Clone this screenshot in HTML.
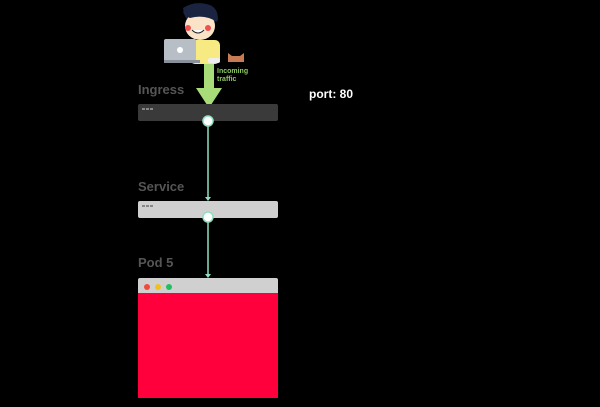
<!DOCTYPE html>
<html><head><style>
body{margin:0;width:600px;height:407px;background:#000;overflow:hidden;position:relative;font-family:"Liberation Sans",sans-serif}
.t{position:absolute;font-weight:bold;color:#555;font-size:13px}
</style></head><body>
<svg width="600" height="407" style="position:absolute;left:0;top:0">
  <!-- person -->
  <path d="M183 12 Q190 2 205 6 Q218 6 218 20 L214 22 Q200 18 188 22 Z" fill="#1a2340"/>
  <ellipse cx="200" cy="26" rx="15" ry="14" fill="#fbe3c8"/>
  <path d="M183 8 Q195 0 210 5 Q220 10 217 22 Q205 14 190 18 Q184 16 183 8Z" fill="#1a2340"/>
  <circle cx="188" cy="28" r="3" fill="#f05050"/><circle cx="208" cy="28" r="3" fill="#f05050"/>
  <path d="M192 30 Q198 36 204 30" stroke="#222" fill="#fff"/>
  <rect x="190" y="40" width="30" height="24" rx="5" fill="#f7ea82"/>
  <rect x="164" y="39" width="32" height="23" rx="2" fill="#b8bec6"/>
  <rect x="164" y="60" width="36" height="3" fill="#8a9099"/>
  <circle cx="180" cy="50" r="3" fill="#fff"/>
  <rect x="208" y="58" width="12" height="5" rx="2" fill="#eee"/>
  <!-- cat -->
  <path d="M228 62 L228 53 L232 56 L240 56 L244 53 L244 62 Z" fill="#c87a55"/>
  <!-- arrow -->
  <rect x="204" y="64" width="10" height="26" fill="#a8dc78"/>
  <polygon points="196,88 222,88 209,108" fill="#a8dc78"/>
  <!-- boxes -->
  <rect x="138" y="104" width="140" height="17" rx="2" fill="#3a3a3a"/>
  <rect x="138" y="201" width="140" height="17" rx="2" fill="#d0d0d0"/>
  <rect x="138" y="278" width="140" height="17" rx="2" fill="#d0d0d0"/>
  <rect x="138" y="293" width="140" height="105" fill="#ff003c"/>
  <g fill="#888"><rect x="142" y="108" width="3" height="2"/><rect x="146" y="108" width="3" height="2"/><rect x="150" y="108" width="3" height="2"/>
  <rect x="142" y="205" width="3" height="2"/><rect x="146" y="205" width="3" height="2"/><rect x="150" y="205" width="3" height="2"/></g>
  <circle cx="147" cy="287" r="3" fill="#ef4a3c"/><circle cx="158" cy="287" r="3" fill="#f0c020"/><circle cx="169" cy="287" r="3" fill="#20c060"/>
  <!-- connectors -->
  <g stroke="#8fe0c0" stroke-width="1.5">
    <line x1="208" y1="121" x2="208" y2="198"/>
    <line x1="208" y1="217" x2="208" y2="275"/>
  </g>
  <polygon points="205,197 211,197 208,201" fill="#8fe0c0"/>
  <polygon points="205,274 211,274 208,278" fill="#8fe0c0"/>
  <circle cx="208" cy="121" r="5" fill="#fff" stroke="#8fe0c0" stroke-width="1.5"/>
  <circle cx="208" cy="217" r="5" fill="#fff" stroke="#8fe0c0" stroke-width="1.5"/>
</svg>
<div class="t" style="left:138px;top:82px">Ingress</div>
<div class="t" style="left:138px;top:179px">Service</div>
<div class="t" style="left:138px;top:255px">Pod 5</div>
<div style="position:absolute;left:217px;top:68px;color:#8fc860;font-size:7px;font-weight:bold;line-height:8px">Incoming<br>traffic</div>
<div style="position:absolute;left:309px;top:87px;color:#fff;font-size:12px;font-weight:bold">port: 80</div>
</body></html>
